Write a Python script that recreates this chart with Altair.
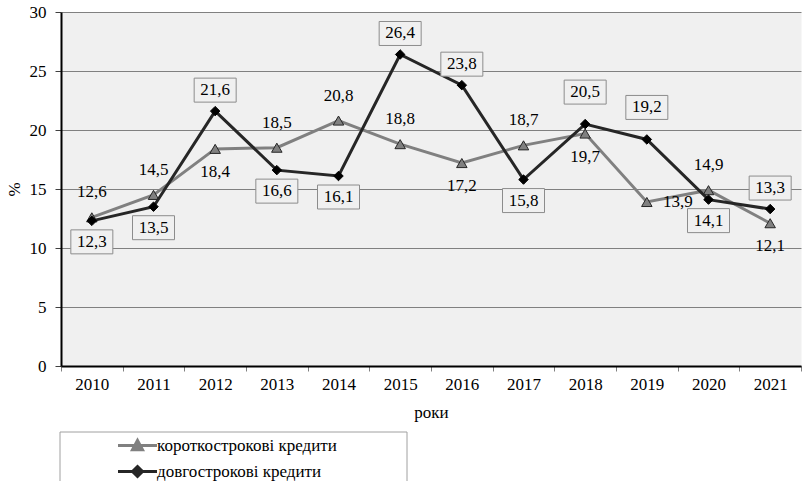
import altair as alt
import pandas as pd

years = [str(y) for y in range(2010, 2022)]
short_vals = [12.6, 14.5, 18.4, 18.5, 20.8, 18.8, 17.2, 18.7, 19.7, 13.9, 14.9, 12.1]
long_vals = [12.3, 13.5, 21.6, 16.6, 16.1, 26.4, 23.8, 15.8, 20.5, 19.2, 14.1, 13.3]
short_place = ["above", "above", "below", "above", "above", "above",
               "below", "above", "below", "right", "above", "below"]
long_place = ["below", "below", "above", "below", "below", "above",
              "above", "below", "high", "high", "below", "above"]
series_names = ["короткострокові кредити", "довгострокові кредити"]
y_ticks = [0, 5, 10, 15, 20, 25, 30]

rows = []
for name, vals, places in [(series_names[0], short_vals, short_place),
                           (series_names[1], long_vals, long_place)]:
    for yr, v, p in zip(years, vals, places):
        rows.append({"year": yr, "series": name, "value": v, "place": p})
df = pd.DataFrame(rows)

FONT = "Liberation Serif"
FS = 17
GRAY = "#808080"
DARK = "#262626"
BG = "#f0f0f0"

x_enc = alt.X(
    "year:O",
    scale=alt.Scale(type="band", paddingInner=0, paddingOuter=0),
    axis=alt.Axis(
        title="роки", labelAngle=0, tickBand="extent", grid=False,
        domainColor="black", domainWidth=2, tickColor=GRAY, tickSize=5,
        labelPadding=5, labelFont=FONT, labelFontSize=FS, labelColor="black",
        titleFont=FONT, titleFontSize=FS, titleFontWeight="normal",
        titleColor="black", titlePadding=12,
    ),
)
y_enc = alt.Y(
    "value:Q",
    scale=alt.Scale(domain=[0, 30], nice=False),
    axis=alt.Axis(
        values=y_ticks, title="%", grid=True, gridColor=GRAY, gridWidth=1,
        domainColor="black", domainWidth=2, tickColor="#404040", tickSize=6,
        labelPadding=9, labelFont=FONT, labelFontSize=FS, labelColor="black",
        titleFont=FONT, titleFontSize=FS, titleFontWeight="normal",
        titleColor="black", titleAngle=270, titleX=-47, titleY=177,
        titleAlign="center", titleBaseline="middle",
    ),
)

base = alt.Chart(df)
short_f = f"datum.series == '{series_names[0]}'"
long_f = f"datum.series == '{series_names[1]}'"

layers = []
layers.append(base.transform_filter(short_f).mark_line(color=GRAY, strokeWidth=3)
              .encode(x=x_enc, y=y_enc))
layers.append(base.transform_filter(short_f)
              .mark_point(shape="triangle-up", filled=True, fill=GRAY, stroke=DARK,
                          strokeWidth=1, size=110, opacity=1)
              .encode(x=x_enc, y=y_enc))
layers.append(base.transform_filter(long_f).mark_line(color=DARK, strokeWidth=3)
              .encode(x=x_enc, y=y_enc))
layers.append(base.transform_filter(long_f)
              .mark_point(shape="diamond", filled=True, fill="black", stroke="black",
                          strokeWidth=1, size=90, opacity=1)
              .encode(x=x_enc, y=y_enc))

label_expr = "replace(format(datum.value, '.1f'), '.', ',')"

short_offsets = {"above": (0, -25), "below": (0, 23), "right": (31, 0)}
for place, (dx, dy) in short_offsets.items():
    layers.append(
        base.transform_filter(short_f)
        .transform_filter(f"datum.place == '{place}'")
        .transform_calculate(label=label_expr)
        .mark_text(font=FONT, fontSize=FS, color="black", dx=dx, dy=dy,
                   baseline="middle", align="center")
        .encode(x=x_enc, y=y_enc, text="label:N")
    )

BOX = "M-1,-0.571L1,-0.571L1,0.571L-1,0.571Z"
long_offsets = {"above": (0, -21), "below": (0, 21), "high": (0, -32)}
for place, (dx, dy) in long_offsets.items():
    sub = (base.transform_filter(long_f)
           .transform_filter(f"datum.place == '{place}'")
           .transform_calculate(label=label_expr))
    layers.append(
        sub.mark_point(shape=BOX, size=1764, filled=True, fill=BG, stroke="#8c8c8c",
                       strokeWidth=1, opacity=1, xOffset=dx, yOffset=dy)
        .encode(x=x_enc, y=y_enc)
    )
    layers.append(
        sub.mark_text(font=FONT, fontSize=FS, color="black", dx=dx, dy=dy,
                      baseline="middle", align="center")
        .encode(x=x_enc, y=y_enc, text="label:N")
    )

# legend frame (decoration)
layers.append(
    alt.Chart(alt.InlineData(values=[{"k": 1}]))
    .mark_rect(fill="transparent", stroke="#a0a0a0", strokeWidth=1)
    .encode(x=alt.value(-1), x2=alt.value(346), y=alt.value(420), y2=alt.value(520))
)

LEG_SHORT = "M-1.95,0L1.95,0M-0.5,0.42L0,-0.5L0.5,0.42Z"
LEG_LONG = "M-1.95,0L1.95,0M0,-0.5L0.5,0L0,0.5L-0.5,0Z"
leg = alt.Legend(
    orient="none", legendX=65, legendY=422, title=None, padding=0,
    symbolSize=400, symbolStrokeWidth=3, labelFont=FONT, labelFontSize=FS,
    labelColor="black", labelOffset=8, rowPadding=4, labelLimit=400,
)
layers.append(
    base.transform_filter("false")
    .mark_point(filled=True, opacity=1)
    .encode(
        x=x_enc, y=y_enc,
        fill=alt.Fill("series:N", scale=alt.Scale(domain=series_names, range=[GRAY, DARK]),
                      legend=leg),
        stroke=alt.Stroke("series:N", scale=alt.Scale(domain=series_names, range=[GRAY, DARK]),
                          legend=leg),
        shape=alt.Shape("series:N", scale=alt.Scale(domain=series_names, range=[LEG_SHORT, LEG_LONG]),
                        legend=leg),
    )
)

chart = (
    alt.layer(*layers)
    .properties(
        width=740, height=354,
        autosize=alt.AutoSizeParams(type="none"),
        padding={"left": 61, "top": 12, "right": 1, "bottom": 115},
        background="white",
    )
    .configure(font=FONT)
    .configure_view(fill=BG, stroke="transparent")
)

chart.save("out.html", embed_options={"renderer": "svg", "actions": False})
